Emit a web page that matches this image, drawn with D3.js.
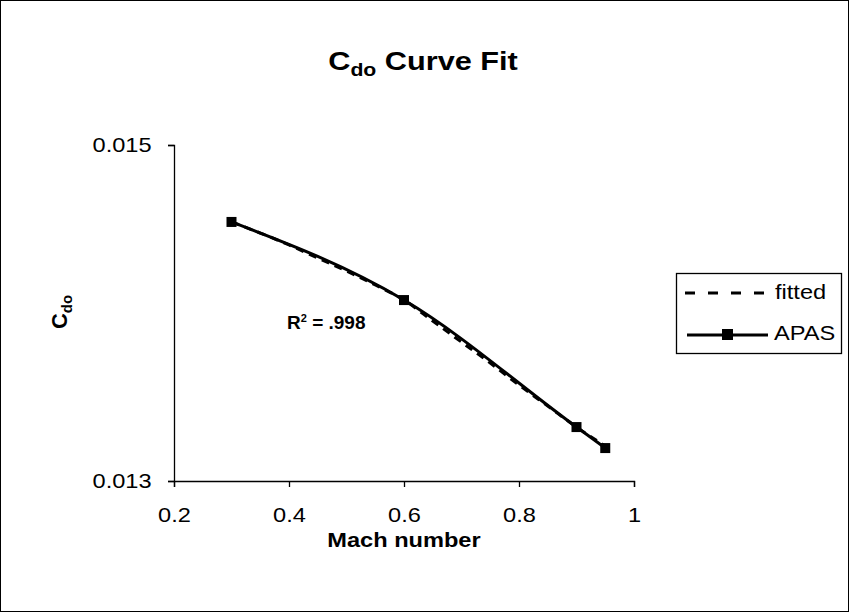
<!DOCTYPE html>
<html>
<head>
<meta charset="utf-8">
<script src="https://cdn.jsdelivr.net/npm/d3@7"></script>
<style>
  body { margin: 0; background: #fff; }
  text { font-family: "Liberation Sans", Arial, sans-serif; fill: #000; }
</style>
</head>
<body>
<svg id="chart"></svg>
<script>
// APAS data points (markers)
const apasMach = [0.3, 0.6, 0.9, 0.95];
const apasCdo = [0.014542, 0.014077, 0.013321, 0.013196];

// fitted curve
const fitMach = [0.3, 0.35, 0.4, 0.45, 0.5, 0.55, 0.6, 0.65, 0.7, 0.75, 0.8, 0.85, 0.9, 0.95];
const fitCdo = [0.014542, 0.014476, 0.014405, 0.014327, 0.014250, 0.014167, 0.014077,
                0.013952, 0.013827, 0.013702, 0.013571, 0.013446, 0.013321, 0.013208];

const xTicks = [0.2, 0.4, 0.6, 0.8, 1];
const yTicks = [0.013, 0.015];

const width = 850;
const height = 613;
const stretch = "scale(1.18,1)"; // the original text is a bit wide
const svg = d3.select("#chart")
  .attr("width", width)
  .attr("height", height);

// chart frame
svg.append("rect")
  .attr("x", 0.5).attr("y", 0.5)
  .attr("width", 848).attr("height", 611)
  .attr("fill", "#fff")
  .attr("stroke", "#000")
  .attr("stroke-width", 1);

const x = d3.scaleLinear().domain([0.2, 1]).range([174, 634]);
const y = d3.scaleLinear().domain([0.013, 0.015]).range([481, 145]);

// helper for wide text
function wideText(px, py, size) {
  return svg.append("text")
    .attr("transform", `translate(${px},${py}) ${stretch}`)
    .attr("font-size", size);
}

// axes
svg.append("g")
  .attr("transform", "translate(0,481)")
  .call(d3.axisBottom(x).tickValues(xTicks).tickSize(6).tickPadding(21)
    .tickFormat(d => d === 1 ? "1" : d3.format(".1f")(d)))
  .call(g => g.selectAll("text")
    .attr("font-size", 20)
    .attr("font-family", "Liberation Sans, Arial")
    .attr("transform", stretch));

svg.append("g")
  .attr("transform", "translate(174,0)")
  .call(d3.axisLeft(y).tickValues(yTicks).tickSize(6).tickPadding(13)
    .tickFormat(d3.format(".3f")))
  .call(g => g.selectAll("text")
    .attr("font-size", 20)
    .attr("font-family", "Liberation Sans, Arial")
    .attr("transform", stretch));

svg.selectAll(".domain, .tick line").attr("stroke", "#000").attr("stroke-width", 1.3);

// curves
const fitPts = fitMach.map((m, i) => [m, fitCdo[i]]);
const apasPts = apasMach.map((m, i) => [m, apasCdo[i]]);

const line = d3.line()
  .x(d => x(d[0]))
  .y(d => y(d[1]))
  .curve(d3.curveMonotoneX);

svg.append("path")
  .attr("d", line(apasPts))
  .attr("fill", "none")
  .attr("stroke", "#000")
  .attr("stroke-width", 3);

svg.append("path")
  .attr("d", line(fitPts))
  .attr("fill", "none")
  .attr("stroke", "#000")
  .attr("stroke-width", 3)
  .attr("stroke-dasharray", "8,6");

svg.append("g")
  .selectAll("rect")
  .data(apasPts)
  .enter().append("rect")
    .attr("x", d => x(d[0]) - 5)
    .attr("y", d => y(d[1]) - 5)
    .attr("width", 10)
    .attr("height", 10)
    .attr("fill", "#000");

// titles
const title = wideText(423, 70, 26)
  .attr("text-anchor", "middle")
  .attr("font-weight", "bold");
title.append("tspan").text("C");
title.append("tspan").attr("font-size", 18).attr("dy", 6).text("do");
title.append("tspan").attr("dy", -6).text(" Curve Fit");

wideText(404, 547, 20)
  .attr("text-anchor", "middle")
  .attr("font-weight", "bold")
  .text("Mach number");

const yTitle = svg.append("text")
  .attr("transform", "translate(67,312) rotate(-90)")
  .attr("text-anchor", "middle")
  .attr("font-size", 22)
  .attr("font-weight", "bold");
yTitle.append("tspan").text("C");
yTitle.append("tspan").attr("font-size", 15).attr("dy", 5).text("do");

const r2 = svg.append("text")
  .attr("x", 287).attr("y", 329)
  .attr("font-size", 19)
  .attr("font-weight", "bold");
r2.append("tspan").text("R");
r2.append("tspan").attr("font-size", 11).attr("dy", -7).text("2");
r2.append("tspan").attr("dy", 7).text(" = .998");

// legend
const legend = svg.append("g");
legend.append("rect")
  .attr("x", 676.5).attr("y", 273.5)
  .attr("width", 165).attr("height", 80)
  .attr("fill", "#fff")
  .attr("stroke", "#000")
  .attr("stroke-width", 1.3);
legend.append("line")
  .attr("x1", 685).attr("x2", 766).attr("y1", 293).attr("y2", 293)
  .attr("stroke", "#000").attr("stroke-width", 3)
  .attr("stroke-dasharray", "10,13");
wideText(775, 299, 20).text("fitted");
legend.append("line")
  .attr("x1", 687).attr("x2", 768).attr("y1", 335).attr("y2", 335)
  .attr("stroke", "#000").attr("stroke-width", 3);
legend.append("rect")
  .attr("x", 722).attr("y", 329).attr("width", 11).attr("height", 11)
  .attr("fill", "#000");
wideText(774, 340, 20).text("APAS");
</script>
</body>
</html>
